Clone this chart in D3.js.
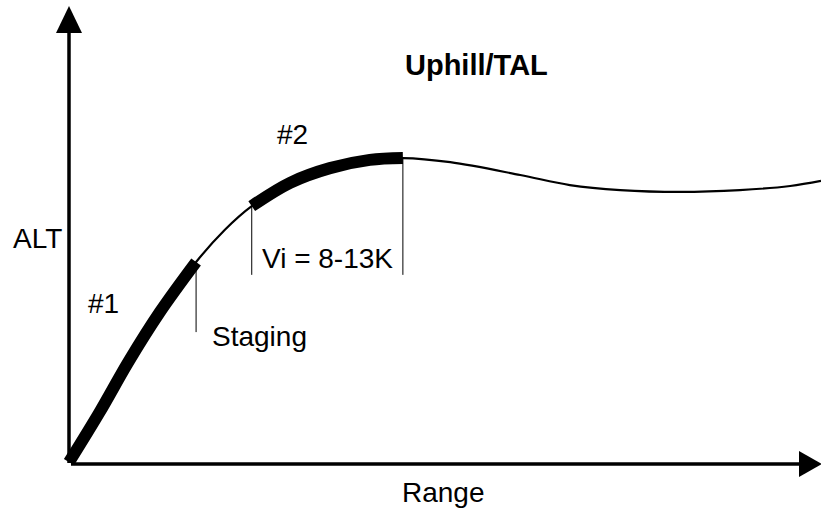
<!DOCTYPE html>
<html>
<head>
<meta charset="utf-8">
<script src="https://cdn.jsdelivr.net/npm/d3@7"></script>
<style>
  html, body { margin: 0; padding: 0; background: #fff; }
  svg { display: block; }
  text { font-family: "Liberation Sans", Arial, sans-serif; fill: #000; }
</style>
</head>
<body>
<div id="chart"></div>
<script>
// flight profile, range (x) vs altitude (y), arbitrary units 0..100
const rangeVals = [0, 4.1, 7.9, 12.1, 16.9, 20.7, 24.3, 29.4, 34.7, 40.0, 44.4, 50.7, 60.0, 66.6, 73.3, 81.3, 89.2, 95.9, 100];
const altVals   = [0.4, 11.4, 22.3, 33.2, 44.1, 51.1, 56.3, 61.4, 64.6, 66.4, 66.8, 65.9, 63.1, 60.9, 59.8, 59.4, 59.8, 60.7, 61.8];

// thick phases along the curve [from, to] in range units
const phases = [[0, 16.9], [24.3, 44.4]];
// drop lines: range position and the altitude they end at
const dropX   = [16.9, 24.3, 44.4];
const dropEnd = [28.8, 41.3, 41.3];

const labels = ['Uphill/TAL', '#2', 'ALT', '#1', 'Staging', 'Vi = 8-13K', 'Range'];

const width = 821, height = 510;
const x = d3.scaleLinear().domain([0, 100]).range([69, 821]);
const y = d3.scaleLinear().domain([0, 100]).range([464, 6]);

const svg = d3.select('#chart').append('svg')
  .attr('width', width)
  .attr('height', height);

const pts = rangeVals.map((r, i) => ({ r: r, a: altVals[i] }));

const line = d3.line()
  .x(d => x(d.r))
  .y(d => y(d.a))
  .curve(d3.curveCatmullRom.alpha(0.5));

// axes with arrow heads
svg.append('line')
  .attr('x1', x(0)).attr('y1', y(0) - 1)
  .attr('x2', x(0)).attr('y2', 30)
  .attr('stroke', '#000').attr('stroke-width', 3.5);
svg.append('path')
  .attr('d', `M${x(0)},6 L${x(0) + 13},33 L${x(0) - 13},33 Z`)
  .attr('fill', '#000');

svg.append('line')
  .attr('x1', x(0) + 2).attr('y1', y(0))
  .attr('x2', 802).attr('y2', y(0))
  .attr('stroke', '#000').attr('stroke-width', 3.5);
svg.append('path')
  .attr('d', `M822,${y(0)} L799,${y(0) - 13} L799,${y(0) + 13} Z`)
  .attr('fill', '#000');

// thin profile
svg.append('path')
  .datum(pts)
  .attr('d', line)
  .attr('fill', 'none')
  .attr('stroke', '#000')
  .attr('stroke-width', 2.2);

// thick phases
phases.forEach(p => {
  svg.append('path')
    .datum(pts.filter(d => d.r >= p[0] && d.r <= p[1]))
    .attr('d', line)
    .attr('fill', 'none')
    .attr('stroke', '#000')
    .attr('stroke-width', 12)
    .attr('stroke-linecap', 'butt');
});

// drop lines
const altAt = r => {
  const i = rangeVals.indexOf(r);
  return altVals[i];
};
dropX.forEach((r, i) => {
  svg.append('line')
    .attr('x1', x(r)).attr('y1', y(altAt(r)))
    .attr('x2', x(r)).attr('y2', y(dropEnd[i]))
    .attr('stroke', '#000').attr('stroke-width', 1);
});

// labels
const pos = [[405, 75], [277, 144], [13, 248], [88, 313], [212, 346], [262, 268], [402, 502]];
labels.forEach((t, i) => {
  svg.append('text')
    .attr('x', pos[i][0])
    .attr('y', pos[i][1])
    .style('font-size', i === 0 ? '29px' : '28px')
    .style('font-weight', i === 0 ? 'bold' : 'normal')
    .text(t);
});
</script>
</body>
</html>
